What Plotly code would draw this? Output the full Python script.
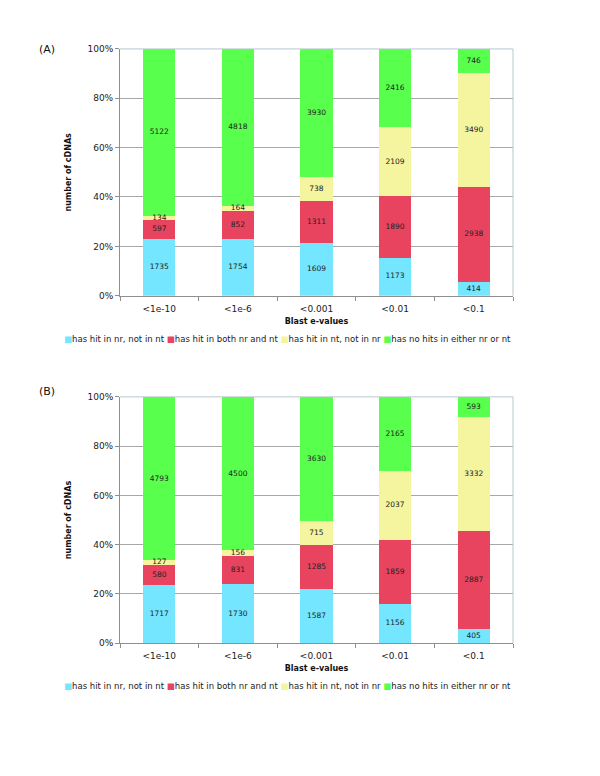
import plotly.graph_objects as go

categories = ['<1e-10', '<1e-6', '<0.001', '<0.01', '<0.1']
series_names = ['has hit in nr, not in nt', 'has hit in both nr and nt',
                'has hit in nt, not in nr', 'has no hits in either nr or nt']
colors = ['#74E6FF', '#E8445F', '#F5F5A0', '#58FF4C']

# panel A
a_nr_only = [1735, 1754, 1609, 1173, 414]
a_both = [597, 852, 1311, 1890, 2938]
a_nt_only = [134, 164, 738, 2109, 3490]
a_none = [5122, 4818, 3930, 2416, 746]

# panel B
b_nr_only = [1717, 1730, 1587, 1156, 405]
b_both = [580, 831, 1285, 1859, 2887]
b_nt_only = [127, 156, 715, 2037, 3332]
b_none = [4793, 4500, 3630, 2165, 593]

W, H = 600, 776
FONT = 'DejaVu Sans'

fig = go.Figure()

panels = [
    ('x', 'y', [a_nr_only, a_both, a_nt_only, a_none]),
    ('x2', 'y2', [b_nr_only, b_both, b_nt_only, b_none]),
]
for xa, ya, data in panels:
    totals = [sum(col) for col in zip(*data)]
    for name, col, vals in zip(series_names, colors, data):
        fig.add_trace(go.Bar(x=categories, y=vals, name=name, xaxis=xa, yaxis=ya,
                             marker=dict(color=col, line=dict(width=0)),
                             hoverinfo='x+y+name', showlegend=False))
    # value labels on top of everything, centred in each segment
    base = [0.0] * len(categories)
    for vals in data:
        pct = [v / t * 100 for v, t in zip(vals, totals)]
        mids = [b + p / 2 for b, p in zip(base, pct)]
        base = [b + p for b, p in zip(base, pct)]
        fig.add_trace(go.Scatter(x=categories, y=mids, mode='text', xaxis=xa, yaxis=ya,
                                 text=[str(v) for v in vals], textposition='middle center',
                                 textfont=dict(family=FONT, size=7.5, color='#222222'),
                                 hoverinfo='skip', showlegend=False))


def py(p):
    # pixel y (from top) -> paper
    return 1 - p / H


xdom = [120 / W, 513 / W]
axis_common = dict(showgrid=False, showline=True, linecolor='#8f8f8f', linewidth=1,
                   ticks='outside', ticklen=4, tickcolor='#8f8f8f', tickson='boundaries',
                   ticklabelstandoff=4,
                   tickfont=dict(family=FONT, size=9, color='#222222'))
yaxis_common = dict(range=[0, 100], tickvals=[0, 20, 40, 60, 80, 100],
                    ticktext=['0%', '20%', '40%', '60%', '80%', '100%'],
                    showgrid=True, gridcolor='#a8a8a8', gridwidth=1,
                    showline=True, linecolor='#8f8f8f', linewidth=1,
                    ticks='outside', ticklen=4, tickcolor='#8f8f8f',
                    tickfont=dict(family=FONT, size=9, color='#222222'),
                    zeroline=False)
title_font = dict(family=FONT, size=8, color='#111111')

fig.update_layout(
    width=W, height=H,
    margin=dict(l=0, r=0, t=0, b=0),
    paper_bgcolor='white', plot_bgcolor='white',
    barmode='stack', barnorm='percent', bargap=0.59,
    xaxis=dict(domain=xdom, anchor='y',
               title=dict(text='<b>Blast e-values</b>', font=title_font, standoff=5),
               **axis_common),
    yaxis=dict(domain=[py(294.5), py(44.5)], anchor='x',
               title=dict(text='<b>number of cDNAs</b>', font=title_font, standoff=14),
               **yaxis_common),
    xaxis2=dict(domain=xdom, anchor='y2',
                title=dict(text='<b>Blast e-values</b>', font=title_font, standoff=5),
                **axis_common),
    yaxis2=dict(domain=[py(646.5), py(397)], anchor='x2',
                title=dict(text='<b>number of cDNAs</b>', font=title_font, standoff=14),
                **yaxis_common),
)

# light frame on top / right of each plot area
for xr, yr in [('x domain', 'y domain'), ('x2 domain', 'y2 domain')]:
    fig.add_shape(type='line', xref=xr, yref=yr, x0=0, x1=1, y0=1, y1=1,
                  line=dict(color='#b9c6cf', width=1))
    fig.add_shape(type='line', xref=xr, yref=yr, x0=1, x1=1, y0=0, y1=1,
                  line=dict(color='#b9c6cf', width=1))

legend_text = ' '.join(
    f'<span style="color:{c}">■</span>{n}' for n, c in zip(series_names, colors))
for ypx in [338, 690]:
    fig.add_annotation(xref='paper', yref='paper', x=287 / W, y=py(ypx),
                       text=legend_text, showarrow=False, xanchor='center', yanchor='middle',
                       font=dict(family=FONT, size=8.5, color='#222222'))

for label, ypx in [('(A)', 45), ('(B)', 392)]:
    fig.add_annotation(xref='paper', yref='paper', x=37 / W, y=py(ypx),
                       text=label, showarrow=False, xanchor='left', yanchor='middle',
                       font=dict(family=FONT, size=11, color='#111111'))

# no page margin so the 600x776 figure sits exactly in the window
fig.write_html('out.html', config={'displayModeBar': False},
               post_script="document.body.style.margin='0px';")
